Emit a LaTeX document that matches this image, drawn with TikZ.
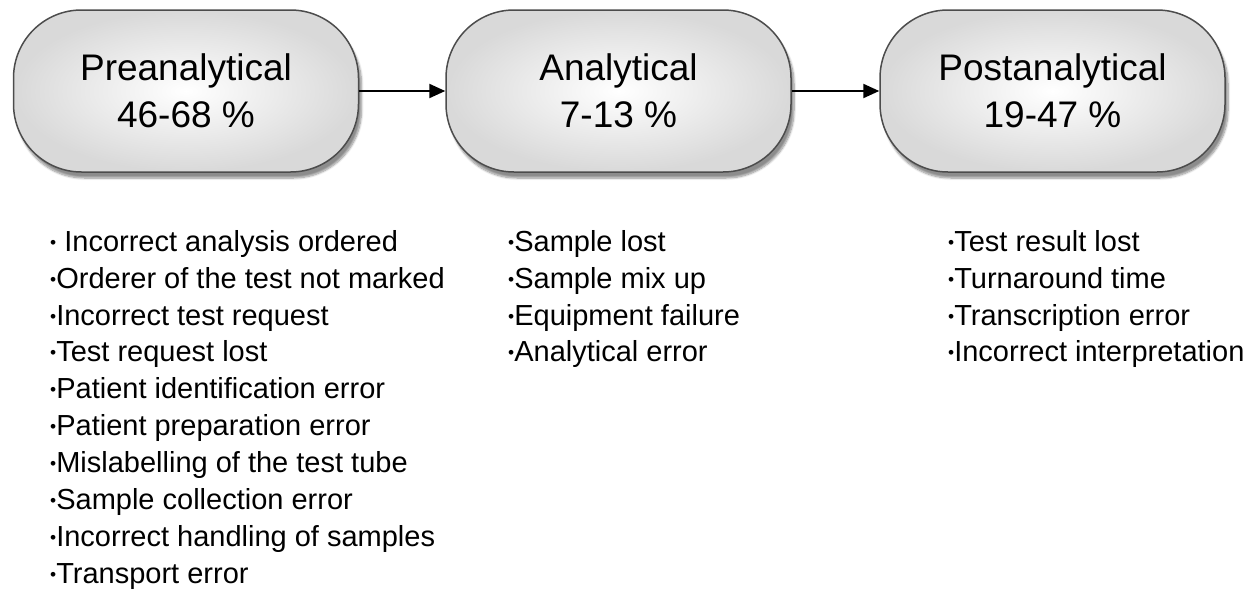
\documentclass[tikz,border=0pt]{standalone}
\usepackage{fontspec}
\setmainfont{Liberation Sans}
\usetikzlibrary{arrows.meta,shadows.blur}
\newcommand\itmdot{\raisebox{3pt}{\scalebox{0.6}{•}}}
\tikzset{
  stage/.style={rectangle, rounded corners=68pt, draw=black!70, line width=1.5pt,
    minimum width=345pt, minimum height=162pt, align=center,
    inner color=white, outer color=black!15,
    blur shadow={shadow xshift=3pt, shadow yshift=-6pt, shadow opacity=45, shadow blur steps=8},
    font=\fontsize{37}{47}\selectfont},
  errlist/.style={anchor=north west, inner sep=0pt, align=left,
    font=\fontsize{29}{36.9}\selectfont}
}
\begin{document}
\begin{tikzpicture}[x=1pt, y=-1pt, line join=round, >={Triangle[length=16pt,width=14pt]}]
                \useasboundingbox (0,0) rectangle (1249,592);
                % stages
                \node[stage] (pre) at (186,91) {Preanalytical\\46-68 \%};
                \node[stage] (ana) at (618.5,91) {Analytical\\7-13 \%};
                \node[stage] (post) at (1052.5,91) {Postanalytical\\19-47 \%};
                \draw[->, line width=2.2pt] (pre) -- (ana);
                \draw[->, line width=2.2pt] (ana) -- (post);
                % errors of each stage
                \node[errlist] (prelist) at (50,230) {\itmdot\ Incorrect analysis ordered\\\itmdot Orderer of the test not marked\\\itmdot Incorrect test request\\\itmdot Test request lost\\\itmdot Patient identification error\\\itmdot Patient preparation error\\\itmdot Mislabelling of the test tube\\\itmdot Sample collection error\\\itmdot Incorrect handling of samples\\\itmdot Transport error};
                \node[errlist] (analist) at (508,230) {\itmdot Sample lost\\\itmdot Sample mix up\\\itmdot Equipment failure\\\itmdot Analytical error};
                \node[errlist] (postlist) at (948,230) {\itmdot Test result lost\\\itmdot Turnaround time\\\itmdot Transcription error\\\itmdot Incorrect interpretation};
            \end{tikzpicture}
\end{document}
